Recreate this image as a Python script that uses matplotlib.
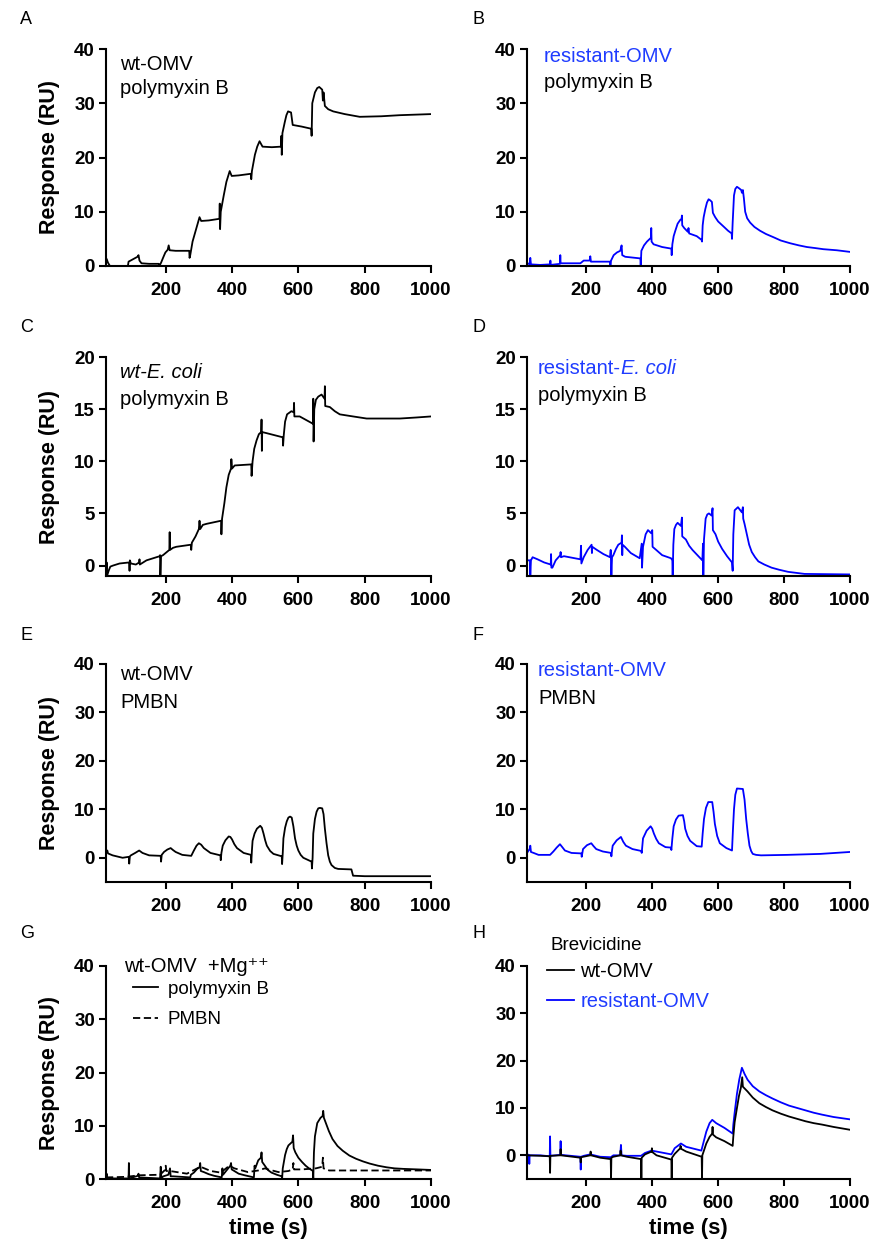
import numpy as np
import matplotlib.pyplot as plt

plt.rcParams['font.family'] = ['Liberation Sans', 'DejaVu Sans']

BLUE = '#0000ff'
TXT_BLUE = '#1f3cff'

# sensorgram traces: (time s, response RU)
a_pts = [(20, 0.5), (22, 1.3), (26, 0.6), (32, 0.0), (86, 0.0), (88, 0.8), (100, 1.2), (115, 1.7), (118, 2.0),
         (121, 1.0), (127, 0.5), (150, 0.4), (179, 0.4), (181, 0.0), (186, 0.6), (192, 1.5), (199, 2.5), (206, 3.0),
         (209, 3.8), (212, 2.9), (230, 2.8), (271, 2.8), (272, 1.5), (274, 2.0), (281, 4.5), (288, 6.0), (295, 7.5),
         (302, 9.0), (307, 8.3), (330, 8.4), (362, 8.7), (363, 11.5), (364, 6.8), (366, 10.0), (375, 13.0),
         (383, 15.5), (393, 17.5), (399, 16.6), (420, 16.7), (457, 17.0), (458, 16.0), (460, 17.5), (469, 20.5),
         (476, 22.0), (483, 23.0), (492, 22.0), (520, 21.9), (548, 22.0), (549, 24.0), (550, 20.5), (552, 24.5),
         (559, 26.5), (564, 27.8), (569, 28.5), (578, 28.3), (583, 26.0), (610, 25.7), (639, 25.3), (640, 24.0),
         (642, 30.0), (650, 32.0), (657, 32.8), (663, 33.0), (672, 32.5), (674, 30.5), (676, 32.0), (680, 29.5),
         (690, 28.9), (705, 28.5), (740, 28.0), (785, 27.5), (850, 27.6), (906, 27.8), (1000, 28.0)]

b_pts = [(22, 0.5), (28, 0.3), (30, 1.5), (32, 0.3), (60, 0.2), (90, 0.3), (91, 1.0), (92, 0.2), (120, 0.4),
         (121, 2.0), (122, 0.5), (150, 0.5), (182, 0.5), (192, 1.0), (210, 1.0), (212, 1.8), (214, 0.8), (272, 0.8),
         (273, 0.0), (275, 1.0), (283, 2.0), (293, 2.5), (303, 2.8), (307, 3.8), (309, 2.0), (318, 1.7), (364, 1.4),
         (365, 0.0), (367, 2.8), (375, 3.8), (384, 4.5), (396, 5.2), (397, 7.0), (398, 4.5), (404, 4.0), (430, 3.5),
         (458, 3.2), (459, 2.0), (461, 4.0), (465, 5.5), (470, 6.5), (477, 7.8), (485, 8.5), (489, 8.7), (490, 9.3),
         (491, 7.5), (497, 7.0), (508, 6.3), (510, 7.0), (512, 6.0), (535, 5.5), (550, 4.8), (551, 4.5), (553, 7.5),
         (556, 9.0), (561, 10.5), (566, 11.7), (571, 12.3), (576, 12.1), (581, 11.8), (584, 9.8), (591, 9.0),
         (600, 8.2), (616, 7.3), (630, 6.5), (641, 6.0), (642, 5.0), (644, 8.0), (648, 13.0), (652, 14.2),
         (657, 14.6), (664, 14.3), (670, 14.0), (672, 13.5), (675, 14.0), (678, 12.5), (682, 10.0), (688, 8.8),
         (697, 8.0), (710, 7.2), (727, 6.5), (745, 5.9), (768, 5.3), (790, 4.7), (818, 4.2), (845, 3.8), (869, 3.5),
         (895, 3.3), (919, 3.1), (960, 2.9), (1000, 2.6)]

c_pts = [(20, -1.0), (22, 0.3), (23, -1.0), (28, -0.5), (33, -0.1), (41, 0.0), (61, 0.2), (90, 0.3), (91, -0.5),
         (92, 0.5), (95, 0.2), (110, 0.1), (120, 0.3), (121, 0.6), (122, 0.1), (142, 0.5), (182, 0.9), (183, 1.0),
         (184, -1.0), (186, 0.9), (192, 1.0), (211, 1.5), (212, 3.2), (213, 1.5), (222, 1.7), (232, 1.8), (276, 2.0),
         (277, 1.5), (279, 2.2), (290, 2.8), (300, 3.5), (302, 4.3), (304, 3.5), (312, 3.9), (323, 4.0), (367, 4.3),
         (368, 3.0), (370, 4.5), (377, 6.0), (383, 7.5), (390, 8.7), (397, 9.3), (398, 10.2), (400, 9.3), (408, 9.6),
         (458, 9.7), (459, 8.6), (462, 10.0), (467, 11.2), (474, 12.0), (481, 12.6), (488, 12.8), (489, 14.0),
         (490, 11.0), (491, 12.8), (504, 12.7), (553, 12.3), (554, 11.5), (556, 12.5), (560, 13.8), (566, 14.5),
         (579, 14.8), (586, 14.7), (587, 15.6), (588, 14.3), (604, 14.3), (644, 13.6), (645, 16.0), (646, 11.9),
         (648, 15.0), (653, 15.9), (660, 16.2), (670, 16.4), (679, 16.0), (680, 17.2), (681, 15.3), (695, 15.2),
         (710, 14.8), (725, 14.5), (765, 14.3), (806, 14.1), (906, 14.1), (956, 14.2), (1000, 14.3)]

d_pts = [(24, 0.5), (29, 0.5), (30, -1.0), (32, 0.5), (37, 0.8), (52, 0.6), (72, 0.3), (92, 0.1), (93, 1.1),
         (94, -0.2), (97, -0.2), (107, 0.5), (121, 1.0), (122, 1.3), (123, 0.8), (132, 0.9), (182, 0.6), (184, 1.9),
         (185, 0.2), (192, 0.8), (204, 1.5), (216, 2.0), (217, 1.2), (218, 1.8), (232, 1.5), (252, 1.1), (272, 0.8),
         (274, 1.5), (276, -1.0), (278, 0.8), (282, 1.0), (290, 1.6), (297, 2.0), (307, 2.2), (308, 2.9), (309, 1.0),
         (310, 2.0), (317, 1.8), (335, 1.2), (362, 0.7), (368, 2.1), (369, -0.2), (372, 1.8), (380, 3.0), (387, 3.4),
         (397, 3.1), (400, 3.4), (401, 1.8), (412, 1.5), (430, 1.0), (457, 0.7), (461, 0.5), (462, -1.0), (464, 2.0),
         (467, 3.5), (472, 3.9), (477, 4.1), (487, 3.8), (490, 4.6), (491, 2.8), (502, 2.5), (512, 1.9), (522, 1.5),
         (537, 1.0), (552, 0.5), (554, 2.1), (555, -1.0), (557, 2.5), (562, 4.5), (567, 4.9), (572, 5.0), (580, 4.8),
         (583, 5.5), (584, 3.4), (592, 3.0), (600, 2.3), (612, 1.6), (627, 0.9), (642, 0.3), (644, -0.5), (646, 3.0),
         (650, 5.3), (660, 5.6), (672, 5.1), (675, 5.6), (676, 4.5), (680, 4.0), (687, 3.0), (694, 2.0), (702, 1.3),
         (712, 0.8), (722, 0.4), (740, 0.1), (762, -0.2), (785, -0.4), (812, -0.6), (862, -0.8), (1000, -0.85)]

e_pts = [(20, 1.0), (24, 1.5), (26, 0.9), (40, 0.5), (70, 0.0), (89, 0.2), (90, -1.2), (92, 0.3), (95, 0.5),
         (108, 1.0), (120, 1.5), (130, 1.0), (150, 0.5), (185, 0.4), (186, -0.8), (188, 0.6), (195, 1.2), (205, 1.7),
         (215, 2.0), (222, 1.6), (230, 1.2), (250, 0.6), (277, 0.4), (285, 1.5), (293, 2.5), (300, 3.0), (307, 2.7),
         (315, 2.0), (335, 1.0), (365, 0.5), (366, -0.5), (368, 1.0), (372, 2.5), (380, 3.6), (390, 4.4), (395, 4.3),
         (400, 3.8), (407, 2.8), (415, 2.0), (435, 1.0), (457, 0.6), (458, -1.0), (460, 1.5), (462, 3.5), (468, 5.0),
         (475, 6.0), (485, 6.6), (490, 6.2), (495, 5.0), (500, 3.6), (505, 2.5), (515, 1.4), (525, 0.8), (550, 0.3),
         (551, -1.3), (553, 1.0), (555, 4.0), (560, 6.2), (565, 7.5), (570, 8.3), (575, 8.5), (580, 8.3), (585, 6.5),
         (590, 4.0), (595, 2.5), (600, 1.5), (607, 0.6), (615, 0.0), (640, -0.8), (641, -2.2), (643, 0.0), (645, 5.0),
         (650, 8.0), (655, 9.5), (660, 10.2), (665, 10.3), (672, 10.2), (676, 9.0), (680, 6.0), (685, 3.0),
         (690, 0.5), (695, -0.8), (700, -1.5), (710, -2.1), (720, -2.3), (760, -2.4), (765, -3.7), (800, -3.8),
         (1000, -3.8)]

f_pts = [(22, 1.2), (28, 1.8), (30, 2.5), (32, 1.2), (40, 1.0), (55, 0.6), (90, 0.6), (100, 1.3), (110, 2.1),
         (120, 2.8), (127, 2.2), (135, 1.5), (155, 1.0), (185, 0.9), (186, 0.2), (188, 1.0), (190, 1.8), (202, 2.6),
         (215, 3.0), (222, 2.4), (230, 1.8), (250, 1.3), (275, 1.0), (276, 0.3), (278, 1.5), (280, 2.5), (292, 3.6),
         (305, 4.3), (312, 3.3), (320, 2.5), (340, 1.8), (367, 1.4), (368, 1.0), (372, 4.0), (383, 5.6), (395, 6.5),
         (400, 6.0), (405, 5.0), (412, 3.9), (420, 3.0), (440, 2.2), (457, 2.1), (458, 1.6), (461, 4.0), (465, 6.5),
         (472, 7.9), (480, 8.7), (493, 8.8), (497, 7.5), (500, 6.0), (507, 4.5), (515, 3.5), (535, 2.4), (550, 2.3),
         (553, 5.0), (557, 8.0), (563, 10.3), (570, 11.5), (582, 11.5), (586, 9.5), (590, 7.0), (597, 4.5),
         (605, 3.0), (625, 2.0), (642, 1.5), (645, 6.0), (648, 10.0), (652, 13.0), (657, 14.3), (675, 14.2),
         (680, 12.0), (685, 8.0), (690, 5.0), (695, 2.5), (700, 1.4), (705, 0.8), (715, 0.6), (730, 0.5), (810, 0.6),
         (910, 0.8), (1000, 1.2)]

g_pmb_pts = [(20, 0.3), (22, 1.0), (24, 0.2), (40, 0.1), (88, 0.1), (89, 3.0), (90, 0.1), (95, 0.2), (116, 0.6),
             (118, 1.0), (120, 0.3), (183, 0.1), (185, 2.3), (187, 0.2), (193, 0.5), (208, 0.8), (213, 2.0),
             (215, 0.5), (223, 0.5), (274, 0.3), (276, 0.8), (285, 1.2), (295, 1.9), (302, 2.2), (304, 3.0),
             (306, 1.5), (315, 1.3), (330, 0.9), (346, 0.6), (369, 0.3), (371, 2.0), (373, 0.8), (382, 1.5),
             (395, 2.5), (397, 3.0), (399, 1.8), (407, 1.5), (420, 1.0), (438, 0.7), (466, 0.3), (468, 2.5),
             (470, 2.0), (479, 3.5), (487, 4.0), (489, 5.0), (491, 3.2), (499, 2.5), (508, 1.7), (519, 1.2),
             (535, 0.8), (550, 0.5), (551, 0.0), (553, 2.0), (560, 4.5), (565, 5.6), (570, 6.3), (582, 7.0),
             (584, 8.2), (586, 5.8), (591, 5.0), (600, 4.0), (611, 3.2), (622, 2.5), (632, 2.0), (644, 1.5),
             (645, 0.0), (647, 5.0), (650, 8.0), (657, 10.5), (667, 11.5), (673, 11.8), (675, 12.8), (677, 11.5),
             (683, 10.5), (692, 9.0), (703, 7.5), (718, 6.2), (734, 5.3), (754, 4.4), (774, 3.8), (795, 3.3),
             (815, 2.9), (840, 2.5), (866, 2.2), (890, 2.0), (917, 1.9), (960, 1.8), (1000, 1.7)]

g_pmbn_pts = [(20, 0.3), (80, 0.4), (121, 0.7), (183, 0.8), (198, 1.7), (200, 2.5), (202, 1.5), (213, 1.5),
              (264, 1.0), (295, 2.0), (305, 2.3), (336, 1.5), (366, 1.2), (392, 2.5), (407, 2.0), (448, 1.3),
              (479, 1.6), (499, 2.0), (509, 1.8), (540, 1.3), (570, 1.5), (583, 1.8), (585, 3.0), (587, 1.8),
              (611, 1.8), (653, 2.0), (672, 2.3), (674, 4.0), (676, 2.0), (693, 1.6), (815, 1.6), (1000, 1.6)]

h_wt_pts = [(20, 0.0), (61, -0.1), (89, -0.2), (90, -3.7), (91, -0.1), (121, 0.0), (122, 1.3), (123, 0.0),
            (182, -0.5), (183, -1.5), (184, -0.4), (212, 0.0), (213, 0.8), (214, 0.0), (242, -0.5), (274, -0.8),
            (275, -5.0), (276, -0.5), (282, -0.3), (303, 0.0), (304, 1.0), (305, 0.0), (323, -0.3), (366, -0.8),
            (367, -5.0), (368, -0.5), (378, 0.2), (398, 0.8), (399, 1.5), (400, 0.7), (413, 0.0), (458, -0.9),
            (459, -5.0), (460, -0.5), (468, 0.3), (485, 1.5), (486, 2.0), (487, 1.4), (503, 0.8), (550, -0.3),
            (551, -5.0), (552, 0.0), (564, 2.5), (574, 3.9), (582, 4.6), (583, 6.0), (584, 4.4), (594, 3.8),
            (619, 3.0), (644, 2.0), (646, 4.0), (650, 7.0), (657, 10.0), (663, 12.5), (669, 14.3), (673, 16.5),
            (675, 14.5), (689, 13.5), (705, 12.2), (725, 11.0), (745, 10.2), (765, 9.5), (790, 8.8), (815, 8.2),
            (840, 7.7), (865, 7.2), (890, 6.8), (915, 6.5), (950, 6.0), (1000, 5.4)]

h_res_pts = [(20, 0.3), (26, 0.0), (27, -1.8), (28, 0.0), (61, 0.0), (89, -0.2), (90, 4.0), (91, -0.1), (121, 0.1),
             (122, 3.0), (123, 0.1), (182, -0.3), (183, -3.0), (184, -0.3), (192, -0.1), (212, 0.2), (242, -0.3),
             (274, -0.4), (282, 0.0), (303, 0.0), (305, 2.2), (307, 0.0), (323, -0.1), (366, -0.1), (378, 0.5),
             (398, 1.0), (413, 0.8), (458, 0.2), (468, 1.5), (487, 2.5), (503, 1.8), (549, 1.0), (564, 5.0),
             (574, 6.8), (582, 7.5), (594, 6.8), (619, 5.8), (644, 4.6), (646, 6.5), (650, 9.0), (657, 13.0),
             (664, 16.0), (672, 18.5), (680, 17.2), (689, 16.0), (705, 14.6), (725, 13.5), (745, 12.7), (765, 12.0),
             (790, 11.2), (815, 10.5), (840, 10.0), (865, 9.5), (890, 9.0), (915, 8.6), (950, 8.1), (1000, 7.6)]

x_ticks = [200, 400, 600, 800, 1000]
y_ticks_40 = [0, 10, 20, 30, 40]
y_ticks_20 = [0, 5, 10, 15, 20]

W, H = 877, 1243
fig = plt.figure(figsize=(W / 100, H / 100), dpi=100)

cols = [(106, 431), (527, 850)]
rows = [(49, 266), (357, 576), (664, 882), (966, 1179)]


def make_ax(col, row):
    l, r = cols[col]
    t, b = rows[row]
    return fig.add_axes([l / W, 1 - b / H, (r - l) / W, (b - t) / H])


def style(ax, ylim, yticks, ylabel=False, xlabel=False):
    ax.set_xlim(20, 1000)
    ax.set_ylim(*ylim)
    ax.set_xticks(x_ticks)
    ax.set_yticks(yticks)
    for s in ['top', 'right']:
        ax.spines[s].set_visible(False)
    for s in ['left', 'bottom']:
        ax.spines[s].set_linewidth(1.5)
    ax.tick_params(direction='out', length=5, width=1.5, labelsize=13.5)
    ax.tick_params(axis='x', pad=6.5)
    ax.tick_params(axis='y', pad=3)
    plt.setp(ax.get_xticklabels() + ax.get_yticklabels(), fontweight='bold')
    if ylabel:
        ax.set_ylabel('Response (RU)', fontsize=15.5, fontweight='bold')
        ax.yaxis.set_label_coords(-0.142, 0.5)
    if xlabel:
        ax.set_xlabel('time (s)', fontsize=16, fontweight='bold')
        ax.xaxis.set_label_coords(0.5, -0.185)


def trace(ax, pts, color='black', **kw):
    t, y = np.array(pts).T
    ax.plot(t, y, color=color, lw=1.3, **kw)


def ftext(x, y, s, **kw):
    kw.setdefault('fontsize', 14.5)
    kw.setdefault('va', 'center')
    return fig.text(x / W, 1 - y / H, s, **kw)


axA = make_ax(0, 0)
trace(axA, a_pts)
style(axA, (0, 40), y_ticks_40, ylabel=True)

axB = make_ax(1, 0)
trace(axB, b_pts, BLUE)
style(axB, (0, 40), y_ticks_40)

axC = make_ax(0, 1)
trace(axC, c_pts)
style(axC, (-1, 20), y_ticks_20, ylabel=True)

axD = make_ax(1, 1)
trace(axD, d_pts, BLUE)
style(axD, (-1, 20), y_ticks_20)

axE = make_ax(0, 2)
trace(axE, e_pts)
style(axE, (-5, 40), y_ticks_40, ylabel=True)

axF = make_ax(1, 2)
trace(axF, f_pts, BLUE)
style(axF, (-5, 40), y_ticks_40)

axG = make_ax(0, 3)
trace(axG, g_pmbn_pts, ls=(0, (4, 2)), label='PMBN')
trace(axG, g_pmb_pts, label='polymyxin B')
style(axG, (0, 40), y_ticks_40, ylabel=True, xlabel=True)
hG, lG = axG.get_legend_handles_labels()
axG.legend(hG[::-1], lG[::-1], loc='upper left', bbox_to_anchor=(0.083, 0.93), frameon=False,
           fontsize=13.5, handlelength=1.35, handletextpad=0.5, borderpad=0, borderaxespad=0, labelspacing=0.7)

axH = make_ax(1, 3)
trace(axH, h_res_pts, BLUE, label='resistant-OMV')
trace(axH, h_wt_pts, label='wt-OMV')
style(axH, (-5, 40), y_ticks_40, xlabel=True)
hH, lH = axH.get_legend_handles_labels()
axH.legend(hH[::-1], lH[::-1], loc='upper left', bbox_to_anchor=(0.062, 1.02), frameon=False,
           fontsize=14.5, handlelength=1.35, handletextpad=0.3, borderpad=0, borderaxespad=0, labelspacing=0.55,
           labelcolor=['black', TXT_BLUE])

# panel annotations
ftext(120, 65, 'wt-OMV')
ftext(120, 89, 'polymyxin B')
ftext(544, 57, 'resistant-OMV', color=TXT_BLUE)
ftext(544, 82, 'polymyxin B')
ftext(120, 373, 'wt-E. coli', style='italic')
ftext(120, 399, 'polymyxin B')
t_res = ftext(538, 368, 'resistant-', color=TXT_BLUE)
ftext(538, 395, 'polymyxin B')
ftext(120, 675, 'wt-OMV')
ftext(120, 702, 'PMBN')
ftext(538, 671, 'resistant-OMV', color=TXT_BLUE)
ftext(538, 698, 'PMBN')
ftext(124, 967, 'wt-OMV  +Mg\u207a\u207a')
ftext(550, 946, 'Brevicidine', fontsize=13.5)

fig.canvas.draw()
bb = t_res.get_window_extent()
ftext(bb.x1, 368, 'E. coli', color=TXT_BLUE, style='italic')

for lab, x, y in [('A', 20, 20), ('B', 473, 20), ('C', 20, 327), ('D', 473, 327),
                  ('E', 20, 635), ('F', 473, 635), ('G', 20, 933), ('H', 473, 933)]:
    ftext(x, y, lab, fontsize=13)

fig.savefig('out.png', dpi=100)
